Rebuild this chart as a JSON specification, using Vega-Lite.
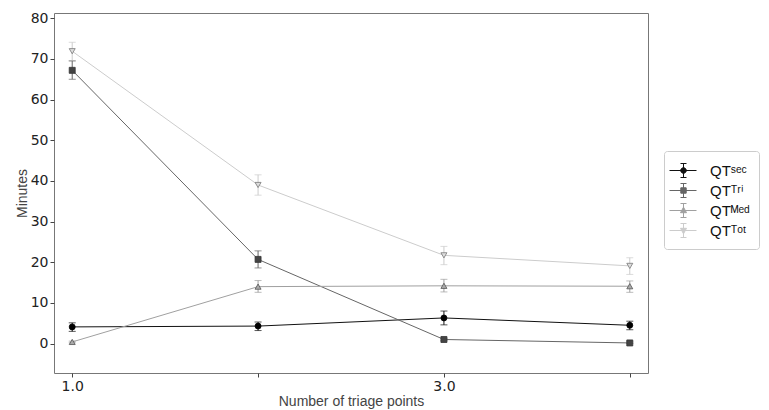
{
  "$schema": "https://vega.github.io/schema/vega-lite/v6.json",
  "width": 594,
  "height": 360,
  "autosize": "none",
  "padding": {"left": 54, "top": 13, "right": 121, "bottom": 37},
  "background": "white",
  "config": {
    "view": {"stroke": "#777", "strokeWidth": 1},
    "axis": {"grid": false, "domain": false, "tickColor": "#444", "tickSize": 4, "labelFont": "DejaVu Sans", "labelFontSize": 14, "labelColor": "#222", "titleFont": "Liberation Sans", "titleFontSize": 14, "titleFontWeight": "normal", "titleColor": "#444"}
  },
  "resolve": {
    "scale": {"shape": "independent", "fill": "independent", "stroke": "independent"},
    "legend": {"shape": "independent", "fill": "independent", "stroke": "independent"}
  },
  "data": {"values": [
    {"s": "QTSec", "x": 1, "m": 4.1, "lo": 3.0, "hi": 5.1},
    {"s": "QTSec", "x": 2, "m": 4.3, "lo": 3.2, "hi": 5.3},
    {"s": "QTSec", "x": 3, "m": 6.3, "lo": 4.6, "hi": 8.0},
    {"s": "QTSec", "x": 4, "m": 4.5, "lo": 3.4, "hi": 5.5},
    {"s": "QTTri", "x": 1, "m": 67.2, "lo": 65.0, "hi": 69.5},
    {"s": "QTTri", "x": 2, "m": 20.7, "lo": 18.6, "hi": 22.8},
    {"s": "QTTri", "x": 3, "m": 1.0, "lo": 0.7, "hi": 1.3},
    {"s": "QTTri", "x": 4, "m": 0.15, "lo": 0.0, "hi": 0.4},
    {"s": "QTMed", "x": 1, "m": 0.4, "lo": 0.2, "hi": 0.6},
    {"s": "QTMed", "x": 2, "m": 14.0, "lo": 12.6, "hi": 15.5},
    {"s": "QTMed", "x": 3, "m": 14.2, "lo": 12.7, "hi": 15.8},
    {"s": "QTMed", "x": 4, "m": 14.1, "lo": 12.6, "hi": 15.4},
    {"s": "QTTot", "x": 1, "m": 71.9, "lo": 69.6, "hi": 74.1},
    {"s": "QTTot", "x": 2, "m": 39.0, "lo": 36.5, "hi": 41.5},
    {"s": "QTTot", "x": 3, "m": 21.7, "lo": 19.4, "hi": 23.9},
    {"s": "QTTot", "x": 4, "m": 19.1, "lo": 17.0, "hi": 21.1}
  ]},
  "encoding": {
    "x": {"field": "x", "type": "quantitative", "title": "Number of triage points",
      "scale": {"domain": [0.902, 4.098], "nice": false, "zero": false},
      "axis": {"values": [1, 2, 3, 4], "labelExpr": "datum.value === 1 || datum.value === 3 ? format(datum.value, '.1f') : ''", "labelPadding": 2, "titlePadding": 1}},
    "color": {"field": "s", "type": "nominal",
      "scale": {"domain": ["QTSec", "QTTri", "QTMed", "QTTot"], "range": ["#111111", "#666666", "#a0a0a0", "#cccccc"]},
      "legend": {
        "orient": "none", "legendX": 610, "legendY": 138, "title": null,
        "labelFont": "Liberation Sans", "labelFontSize": 15, "labelColor": "#111",
        "labelExpr": "datum.label === 'QTSec' ? 'QTˢᵉᶜ' : datum.label === 'QTTri' ? 'QTᵀʳⁱ' : datum.label === 'QTMed' ? 'QTᴹᵉᵈ' : 'QTᵀᵒᵗ'",
        "strokeColor": "#cccccc", "cornerRadius": 3, "padding": 9,
        "symbolSize": 400, "rowPadding": 0, "labelOffset": 16,
        "encode": {"symbols": {"update": {
          "shape": {"signal": "datum.value === 'QTSec' ? 'M-1.4,0H1.3M0,-0.7V0.7M-0.3,-0.7H0.3M-0.3,0.7H0.3M0.28,0A0.28,0.28,0,1,1,-0.28,0A0.28,0.28,0,1,1,0.28,0Z' : datum.value === 'QTTri' ? 'M-1.4,0H1.3M0,-0.7V0.7M-0.3,-0.7H0.3M-0.3,0.7H0.3M-0.27,-0.27H0.27V0.27H-0.27Z' : datum.value === 'QTMed' ? 'M-1.4,0H1.3M0,-0.7V0.7M-0.3,-0.7H0.3M-0.3,0.7H0.3M0,-0.33L0.3,0.22H-0.3Z' : 'M-1.4,0H1.3M0,-0.7V0.7M-0.3,-0.7H0.3M-0.3,0.7H0.3M0,0.33L0.3,-0.22H-0.3Z'"},
          "fill": {"signal": "datum.value === 'QTSec' ? '#000000' : datum.value === 'QTTri' ? '#444444' : datum.value === 'QTMed' ? '#aaaaaa' : '#dddddd'"},
          "stroke": {"signal": "datum.value === 'QTSec' ? '#111111' : datum.value === 'QTTri' ? '#555555' : datum.value === 'QTMed' ? '#888888' : '#aaaaaa'"},
          "strokeWidth": {"value": 1},
          "opacity": {"value": 1}
        }}}
      }}
  },
  "layer": [
    {"mark": {"type": "rule", "strokeWidth": 1},
     "encoding": {
       "y": {"field": "lo", "type": "quantitative", "title": "Minutes",
         "scale": {"domain": [-7.24, 81.3], "nice": false, "zero": false},
         "axis": {"values": [0, 10, 20, 30, 40, 50, 60, 70, 80], "labelPadding": 2, "titlePadding": 1}},
       "y2": {"field": "hi"}}},
    {"mark": {"type": "tick", "orient": "horizontal", "size": 7, "thickness": 1},
     "encoding": {"y": {"field": "lo", "type": "quantitative"}}},
    {"mark": {"type": "tick", "orient": "horizontal", "size": 7, "thickness": 1},
     "encoding": {"y": {"field": "hi", "type": "quantitative"}}},
    {"mark": {"type": "line", "strokeWidth": 1},
     "encoding": {"y": {"field": "m", "type": "quantitative"}}},
    {"mark": {"type": "point", "filled": true, "size": 36, "strokeWidth": 0.8, "opacity": 1},
     "encoding": {
       "y": {"field": "m", "type": "quantitative"},
       "shape": {"field": "s", "type": "nominal", "legend": null,
         "scale": {"domain": ["QTSec", "QTTri", "QTMed", "QTTot"], "range": ["circle", "square", "triangle-up", "triangle-down"]}},
       "fill": {"field": "s", "type": "nominal", "legend": null,
         "scale": {"domain": ["QTSec", "QTTri", "QTMed", "QTTot"], "range": ["#000000", "#444444", "#aaaaaa", "#dddddd"]}},
       "stroke": {"field": "s", "type": "nominal", "legend": null,
         "scale": {"domain": ["QTSec", "QTTri", "QTMed", "QTTot"], "range": ["#000000", "#333333", "#555555", "#777777"]}}
     }}
  ]
}
